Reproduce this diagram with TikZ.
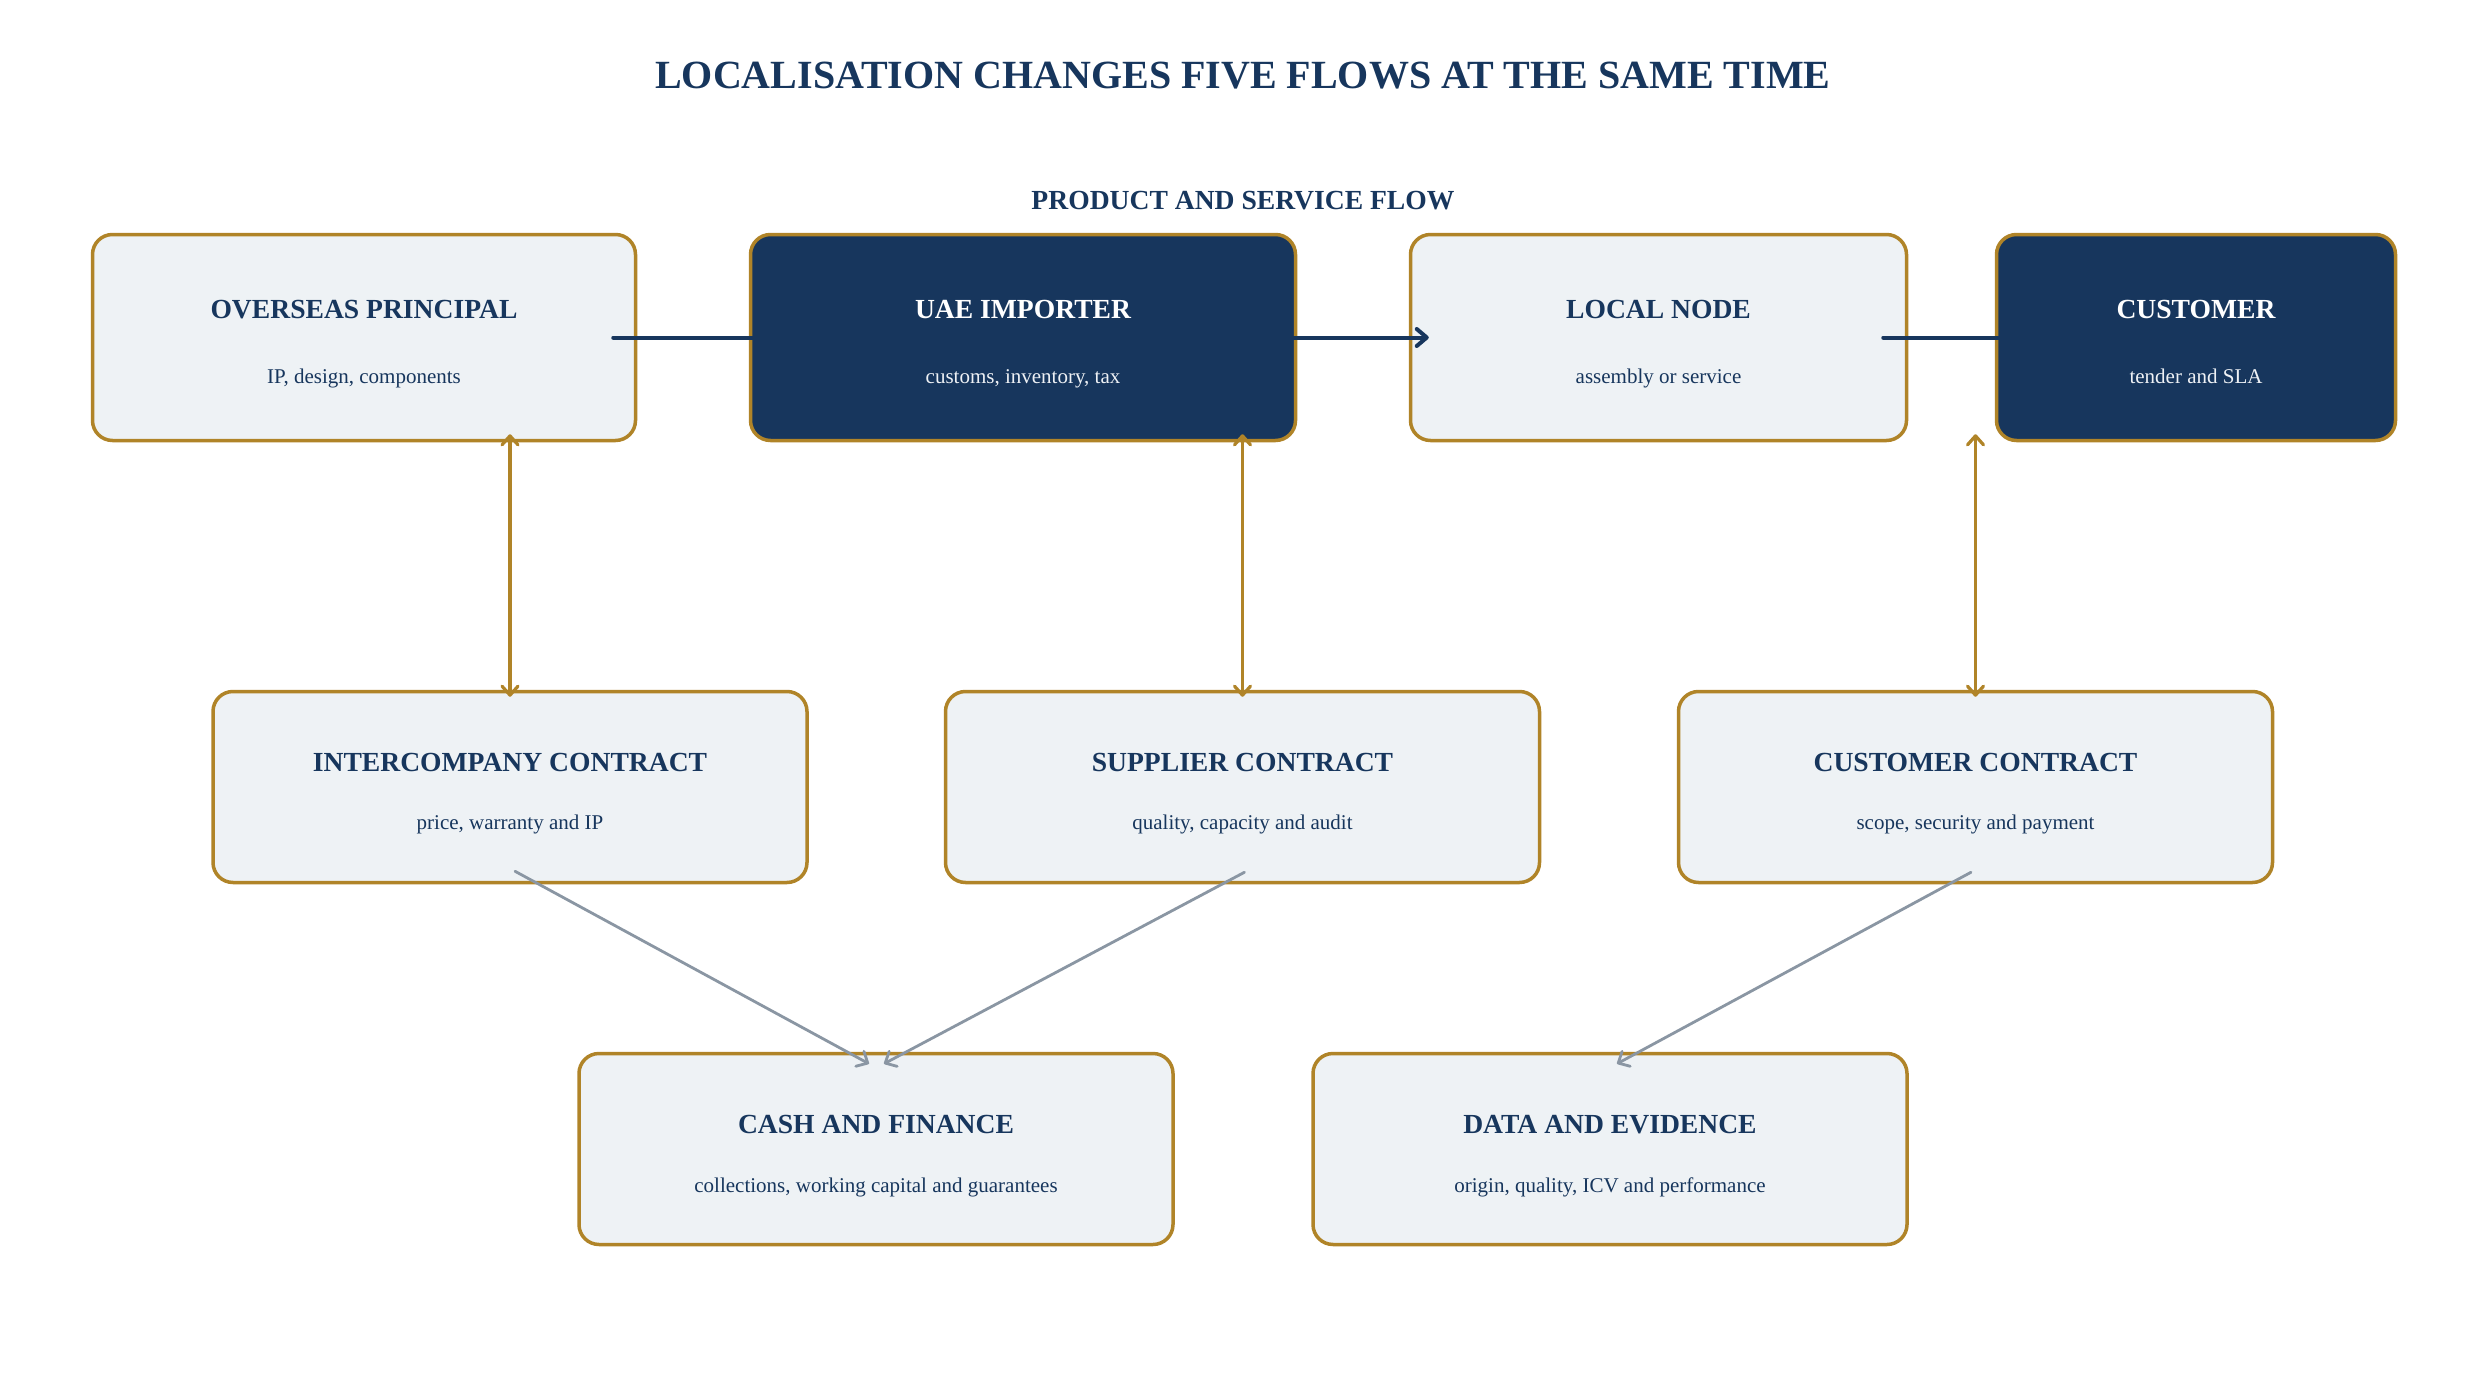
\documentclass[tikz,border=0pt]{standalone}
\usepackage{fontspec}
\setmainfont{Liberation Serif}
\usetikzlibrary{arrows.meta,calc}
\definecolor{navy}{HTML}{17365D}
\definecolor{gold}{HTML}{B08428}
\definecolor{pale}{HTML}{EEF2F5}
\definecolor{steel}{HTML}{8A96A3}
\definecolor{offwhite}{HTML}{EEF1F5}
\tikzset{
  cardbox/.style={draw=gold, line width=1.75pt, rounded corners=10pt, inner sep=0pt, outer sep=0.875pt},
  lightbox/.style={cardbox, fill=pale},
  darkbox/.style={cardbox, fill=navy},
  boxtitle/.style={anchor=base, inner sep=0pt, font=\fontsize{13.8}{16}\selectfont\bfseries},
  boxsub/.style={anchor=base, inner sep=0pt, font=\fontsize{10.5}{12}\selectfont},
  flowarrow/.style={draw=navy, line width=2pt, line cap=round,
    -{Straight Barb[length=5pt,width=8.5pt,line cap=round,line join=round]}},
  contractarrow/.style={draw=gold, line width=1.6pt, line cap=round,
    {Straight Barb[length=4.5pt,width=8pt,line cap=round,line join=round]}-{Straight Barb[length=4.5pt,width=8pt,line cap=round,line join=round]}},
  grayarrow/.style={draw=steel, line width=1.4pt, line cap=round,
    -{Straight Barb[length=4.5pt,width=8.5pt,line cap=round,line join=round]}},
}
\begin{document}
\begin{tikzpicture}[x=0.5pt,y=-0.5pt]
\useasboundingbox (0,0) rectangle (2486,1386);
\fill[white] (0,0) rectangle (2486,1386);

% headings
\node[anchor=base, inner sep=0pt, text=navy, font=\fontsize{20}{24}\selectfont\bfseries] (title) at (1243,89) {LOCALISATION CHANGES FIVE FLOWS AT THE SAME TIME};
\node[anchor=base, inner sep=0pt, text=navy, font=\fontsize{13.8}{16}\selectfont\bfseries] (flowlabel) at (1243,209) {PRODUCT AND SERVICE FLOW};

% row 1
\node[lightbox, minimum width=271.5pt, minimum height=103pt] (op) at (364,337.5) {};
\node[darkbox, minimum width=272.5pt, minimum height=103pt] (uae) at (1023,337.5) {};
\node[lightbox, minimum width=248pt, minimum height=103pt] (local) at (1658.5,337.5) {};
\node[darkbox, minimum width=199.5pt, minimum height=103pt] (cust) at (2196,337.5) {};

\node[boxtitle, text=navy] (op-t) at (364,318) {OVERSEAS PRINCIPAL};
\node[boxsub, text=navy] (op-s) at (364,383) {IP, design, components};
\node[boxtitle, text=white] (uae-t) at (1023,318) {UAE IMPORTER};
\node[boxsub, text=offwhite] (uae-s) at (1023,383) {customs, inventory, tax};
\node[boxtitle, text=navy] (local-t) at (1658.5,318) {LOCAL NODE};
\node[boxsub, text=navy] (local-s) at (1658.5,383) {assembly or service};
\node[boxtitle, text=white] (cust-t) at (2196,318) {CUSTOMER};
\node[boxsub, text=offwhite] (cust-s) at (2196,383) {tender and SLA};

% row 2
\node[lightbox, minimum width=297pt, minimum height=95.5pt] (ic) at (510,787) {};
\node[lightbox, minimum width=297pt, minimum height=95.5pt] (sc) at (1242.5,787) {};
\node[lightbox, minimum width=297pt, minimum height=95.5pt] (cc) at (1975.5,787) {};

\node[boxtitle, text=navy] (ic-t) at (510,771) {INTERCOMPANY CONTRACT};
\node[boxsub, text=navy] (ic-s) at (510,829) {price, warranty and IP};
\node[boxtitle, text=navy] (sc-t) at (1242.5,771) {SUPPLIER CONTRACT};
\node[boxsub, text=navy] (sc-s) at (1242.5,829) {quality, capacity and audit};
\node[boxtitle, text=navy] (cc-t) at (1975.5,771) {CUSTOMER CONTRACT};
\node[boxsub, text=navy] (cc-s) at (1975.5,829) {scope, security and payment};

% row 3
\node[lightbox, minimum width=297pt, minimum height=95.5pt] (cash) at (876,1149) {};
\node[lightbox, minimum width=297pt, minimum height=95.5pt] (data) at (1610,1149) {};

\node[boxtitle, text=navy] (cash-t) at (876,1133) {CASH AND FINANCE};
\node[boxsub, text=navy] (cash-s) at (876,1192) {collections, working capital and guarantees};
\node[boxtitle, text=navy] (data-t) at (1610,1133) {DATA AND EVIDENCE};
\node[boxsub, text=navy] (data-s) at (1610,1192) {origin, quality, ICV and performance};

% product and service flow
\draw[flowarrow] ($(op.east)+(-24,0)$) -- ($(uae.west)+(20,0)$);
\draw[flowarrow] ($(uae.east)+(-24,0)$) -- ($(local.west)+(20,0)$);
\draw[flowarrow] ($(local.east)+(-25,0)$) -- ($(cust.west)+(20,0)$);

% contract links
\coordinate (ccTop) at ($(cc.north |- cust.south)+(0,-8)$);
\draw[contractarrow] ($(ic.north |- op.south)+(0,-8)$) -- ($(ic.north)+(0,7)$);
\draw[contractarrow] ($(sc.north |- uae.south)+(0,-8)$) -- ($(sc.north)+(0,7)$);
\draw[contractarrow] (ccTop) -- ($(cc.north)+(0,7)$);

% to finance and data
\draw[grayarrow] ($(ic.south)+(5,-13)$) -- ($(cash.north)+(-7,12)$);
\draw[grayarrow] ($(sc.south)+(2,-12)$) -- ($(cash.north)+(8,12)$);
\draw[grayarrow] ($(cc.south)+(-4.5,-12)$) -- ($(data.north)+(7,12)$);
\end{tikzpicture}
\end{document}
